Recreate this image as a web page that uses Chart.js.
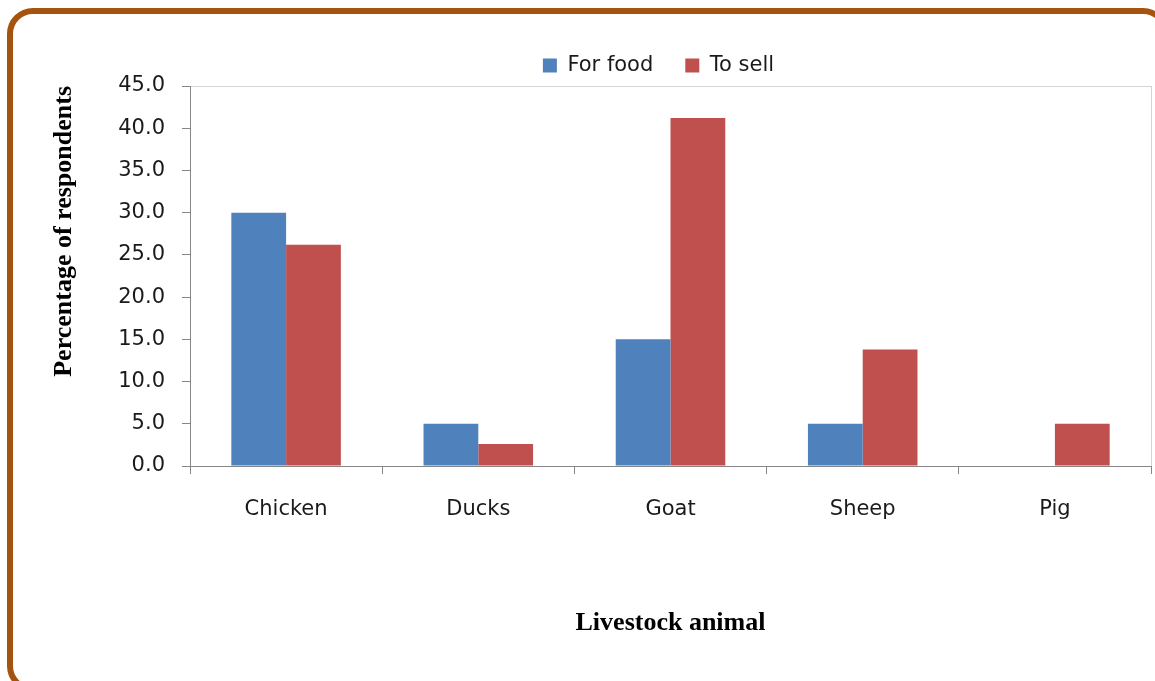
<!DOCTYPE html>
<html>
<head>
<meta charset="utf-8">
<script src="https://cdn.jsdelivr.net/npm/chart.js@4"></script>
<style>
  html, body { margin: 0; padding: 0; background: #fff; overflow: hidden; }
  #wrap { position: relative; width: 1155px; height: 681px; overflow: hidden; }
  #frame {
    position: absolute; left: 7px; top: 8px; width: 1162px; height: 684px;
    box-sizing: border-box; border: 6px solid #A4540F; border-radius: 26px;
    pointer-events: none;
  }
</style>
</head>
<body>
<div id="wrap">
  <canvas id="chart" width="1155" height="681"></canvas>
  <div id="frame"></div>
</div>
<script>
const categories = ['Chicken', 'Ducks', 'Goat', 'Sheep', 'Pig'];
const forFood = [30.0, 5.0, 15.0, 5.0, 0.0];
const toSell = [26.2, 2.6, 41.2, 13.8, 5.0];
const yTicks = [0, 5, 10, 15, 20, 25, 30, 35, 40, 45];

const axisGray = '#868686';

// light frame round the plot area, drawn before the axes so they sit on top
const plotFrame = {
  id: 'plotFrame',
  beforeDraw(chart) {
    const {ctx, chartArea: a} = chart;
    ctx.save();
    ctx.strokeStyle = '#d4d4d4';
    ctx.lineWidth = 1;
    ctx.strokeRect(a.left + 0.5, a.top + 0.5, a.right - a.left, a.bottom - a.top);
    ctx.restore();
  }
};

// legend sits a little right of the canvas centre in the original
const shiftLegend = {
  id: 'shiftLegend',
  afterLayout(chart) {
    const l = chart.legend;
    l.left = chart.chartArea.left - 24;
    l.right = chart.chartArea.right;
  }
};

new Chart(document.getElementById('chart'), {
  type: 'bar',
  data: {
    labels: categories,
    datasets: [
      { label: 'For food', data: forFood, backgroundColor: '#4F81BD' },
      { label: 'To sell', data: toSell, backgroundColor: '#C0504D' }
    ]
  },
  options: {
    responsive: false,
    animation: false,
    layout: { padding: { top: 23, left: 0, right: 4, bottom: 0 } },
    datasets: { bar: { categoryPercentage: 0.57, barPercentage: 1.0 } },
    plugins: {
      tooltip: { enabled: false },
      legend: {
        position: 'top',
        labels: {
          boxWidth: 14, boxHeight: 14, padding: 32,
          color: '#1a1a1a',
          font: { family: 'DejaVu Sans', size: 21 }
        }
      }
    },
    scales: {
      x: {
        afterFit(s) { s.height = 215; },
        border: { color: axisGray, width: 1 },
        grid: { display: true, drawOnChartArea: false, drawTicks: true, tickLength: 8, color: axisGray, offset: true },
        ticks: { color: '#1a1a1a', padding: 23, font: { family: 'DejaVu Sans', size: 21 } },
        title: {
          display: true, text: 'Livestock animal', color: '#000',
          font: { family: 'Liberation Serif', size: 26, weight: 'bold' },
          padding: { top: 0, bottom: 42 }
        }
      },
      y: {
        min: 0, max: 45,
        afterFit(s) { s.width = 190; },
        afterBuildTicks(s) { s.ticks = yTicks.map(v => ({ value: v })); },
        border: { color: axisGray, width: 1 },
        grid: { display: true, drawOnChartArea: false, drawTicks: true, tickLength: 8, color: axisGray },
        ticks: {
          color: '#1a1a1a', padding: 17,
          font: { family: 'DejaVu Sans', size: 21 },
          callback: v => Number(v).toFixed(1)
        },
        title: {
          display: true, text: 'Percentage of respondents', color: '#000', align: 'end',
          font: { family: 'Liberation Serif', size: 26, weight: 'bold' },
          padding: { top: 49, bottom: 0 }
        }
      }
    }
  },
  plugins: [plotFrame, shiftLegend]
});
</script>
</body>
</html>
